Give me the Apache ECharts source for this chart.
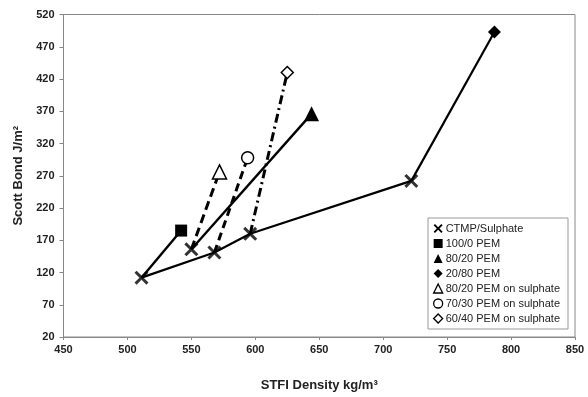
<!DOCTYPE html>
<html>
<head>
<meta charset="utf-8">
<script src="https://cdn.jsdelivr.net/npm/echarts@6/dist/echarts.min.js"></script>
<style>
html,body{margin:0;padding:0;background:#fff;}
#chart{width:588px;height:397px;}
</style>
</head>
<body>
<div id="chart"></div>
<script>
// ---- data ----
const seriesNames = ['CTMP/Sulphate','100/0 PEM','80/20 PEM','20/80 PEM','80/20 PEM on sulphate','70/30 PEM on sulphate','60/40 PEM on sulphate'];
// CTMP/Sulphate points (STFI density, Scott bond)
const ctmpX = [511, 550, 568, 596, 722];
const ctmpY = [112, 156, 151, 180, 262];
// which CTMP points are joined by the CTMP line
const ctmpLineIdx = [0, 2, 3, 4];
// PEM points, each joined to a CTMP starting point
const pemStart = [0, 1, 4, 1, 2, 3];
const pemX = [542, 644, 787, 572, 594, 625];
const pemY = [185, 366, 493, 276, 298, 430];
const xTicks = {min: 450, max: 850, step: 50};
const yTicks = {min: 20, max: 520, step: 50};

// ---- styles ----
const crossPath = 'path://M0,1.5 L1.5,0 L5,3.5 L8.5,0 L10,1.5 L6.5,5 L10,8.5 L8.5,10 L5,6.5 L1.5,10 L0,8.5 L3.5,5 Z';
const pemSymbols = ['rect','triangle','diamond','triangle','circle','diamond'];
const pemSizes = [12, 15, 13, 14, 12, 12];
const pemFilled = [true, true, true, false, false, false];
const pemDash = ['solid','solid','solid',[9,5],[8,5],[9,4,2,4]];
const pemWidth = [2.4, 2.4, 2.2, 3, 3, 3];

const filledStyle = {color: '#000'};
const emptyStyle = {color: '#fff', borderColor: '#000', borderWidth: 1.5};

const series = [];
series.push({
  name: seriesNames[0], type: 'line',
  data: ctmpLineIdx.map(i => [ctmpX[i], ctmpY[i]]),
  symbol: 'none', lineStyle: {color: '#000', width: 2.2}, itemStyle: {color: '#000'}, z: 2
});
pemStart.forEach((s, k) => {
  series.push({
    name: seriesNames[k + 1], type: 'line',
    data: [{value: [ctmpX[s], ctmpY[s]], symbol: 'none'}, {value: [pemX[k], pemY[k]]}],
    symbol: pemSymbols[k], symbolSize: pemSizes[k],
    itemStyle: pemFilled[k] ? filledStyle : emptyStyle,
    lineStyle: {color: '#000', width: pemWidth[k], type: pemDash[k]},
    z: 3
  });
});
series.push({
  name: seriesNames[0], type: 'scatter',
  data: ctmpX.map((x, i) => [x, ctmpY[i]]),
  symbol: crossPath, symbolSize: 14,
  itemStyle: {color: '#000'}, z: 5
});

const legendIcons = [crossPath, 'rect', 'triangle', 'diamond', 'triangle', 'circle', 'diamond'];
const legendFilled = [true, true, true, true, false, false, false];

const chart = echarts.init(document.getElementById('chart'), null, {renderer: 'canvas'});
chart.setOption({
  animation: false,
  backgroundColor: '#fff',
  grid: {left: 63.5, right: 13, top: 14.5, bottom: 59, show: true, borderColor: '#888', borderWidth: 1},
  legend: {
    orient: 'vertical', left: 428, top: 218,
    data: seriesNames.map((n, i) => ({
      name: n, icon: legendIcons[i],
      itemStyle: legendFilled[i] ? {color: '#000', borderWidth: 0} : {color: '#fff', borderColor: '#000', borderWidth: 1.3}
    })),
    itemWidth: 9, itemHeight: 9, itemGap: 4,
    padding: [5, 8, 5, 5],
    backgroundColor: '#fff', borderColor: '#999', borderWidth: 1,
    textStyle: {fontFamily: 'Liberation Sans, Arial', fontSize: 11, color: '#222', padding: [0, 0, 0, -2]},
    selectedMode: false
  },
  xAxis: {
    type: 'value', min: xTicks.min, max: xTicks.max, interval: xTicks.step,
    name: 'STFI Density kg/m³', nameLocation: 'middle', nameGap: 42,
    nameTextStyle: {fontFamily: 'Liberation Sans, Arial', fontSize: 13, fontWeight: 'bold', color: '#222'},
    axisLine: {lineStyle: {color: '#888'}},
    axisTick: {show: true, length: 3, lineStyle: {color: '#888'}},
    axisLabel: {fontFamily: 'Liberation Sans, Arial', fontSize: 11, fontWeight: 'bold', color: '#222', margin: 7},
    splitLine: {show: false}
  },
  yAxis: {
    type: 'value', min: yTicks.min, max: yTicks.max, interval: yTicks.step,
    name: 'Scott Bond J/m²', nameLocation: 'middle', nameGap: 38,
    nameTextStyle: {fontFamily: 'Liberation Sans, Arial', fontSize: 13, fontWeight: 'bold', color: '#222'},
    axisLine: {lineStyle: {color: '#888'}},
    axisTick: {show: true, length: 4, lineStyle: {color: '#888'}},
    axisLabel: {fontFamily: 'Liberation Sans, Arial', fontSize: 11, fontWeight: 'bold', color: '#222', margin: 9},
    splitLine: {show: false}
  },
  series: series
});
</script>
</body>
</html>
